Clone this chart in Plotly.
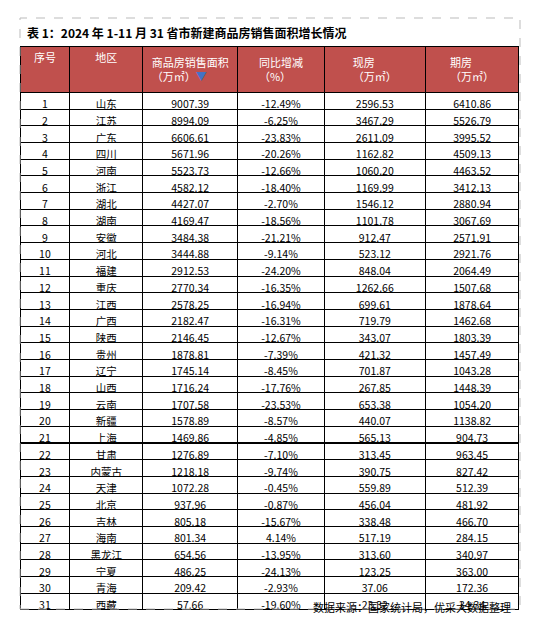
import plotly.graph_objects as go

ranks = list(range(1, 32))
regions = ["山东","江苏","广东","四川","河南","浙江","湖北","湖南","安徽","河北","福建","重庆","江西","广西","陕西","贵州","辽宁","山西","云南","新疆","上海","甘肃","内蒙古","天津","北京","吉林","海南","黑龙江","宁夏","青海","西藏"]
sales = [9007.39,8994.09,6606.61,5671.96,5523.73,4582.12,4427.07,4169.47,3484.38,3444.88,2912.53,2770.34,2578.25,2182.47,2146.45,1878.81,1745.14,1716.24,1707.58,1578.89,1469.86,1276.89,1218.18,1072.28,937.96,805.18,801.34,654.56,486.25,209.42,57.66]
yoy = [-12.49,-6.25,-23.83,-20.26,-12.66,-18.40,-2.70,-18.56,-21.21,-9.14,-24.20,-16.35,-16.94,-16.31,-12.67,-7.39,-8.45,-17.76,-23.53,-8.57,-4.85,-7.10,-9.74,-0.45,-0.87,-15.67,4.14,-13.95,-24.13,-2.93,-19.60]
existing = [2596.53,3467.29,2611.09,1162.82,1060.20,1169.99,1546.12,1101.78,912.47,523.12,848.04,1262.66,699.61,719.79,343.07,421.32,701.87,267.85,653.38,440.07,565.13,313.45,390.75,559.89,456.04,338.48,517.19,313.60,123.25,37.06,23.32]
presale = [6410.86,5526.79,3995.52,4509.13,4463.52,3412.13,2880.94,3067.69,2571.91,2921.76,2064.49,1507.68,1878.64,1462.68,1803.39,1457.49,1043.28,1448.39,1054.20,1138.82,904.73,963.45,827.42,512.39,481.92,466.70,284.15,340.97,363.00,172.36,34.34]
headers = ["序号","地区","商品房销售面积<br>（万㎡）<span style='color:#4472C4'>▼</span>","同比增减<br>（%）","现房<br>（万㎡）","期房<br>（万㎡）"]

W, H = 553, 624
x0, x1 = 12, 512
colw = [50, 73, 95, 87, 101, 94]

font = "Noto Sans CJK SC"
fig = go.Figure(go.Table(
    columnwidth=colw,
    domain=dict(x=[x0/W, x1/W], y=[0, 1-38/H]),
    header=dict(values=headers, fill_color="#C0504D", line=dict(color="black", width=1),
                font=dict(color="white", size=11, family=font), align="center", height=33),
    cells=dict(values=[ranks, regions, [f"{v:.2f}" for v in sales], [f"{v:.2f}%" for v in yoy],
                       [f"{v:.2f}" for v in existing], [f"{v:.2f}" for v in presale]],
               fill_color="white", line=dict(color="black", width=1),
               font=dict(color="black", size=10.5, family=font), align="center", height=16.7),
))
fig.update_layout(
    width=W, height=H, margin=dict(l=0, r=0, t=0, b=0), paper_bgcolor="white",
    font=dict(family=font),
    shapes=[dict(type="rect", xref="paper", yref="paper", x0=x0/W, x1=x1/W, y0=1-601/H, y1=1-10/H,
                 line=dict(color="#BBBBBB", width=1, dash="dash"))],
    annotations=[
        dict(text="<b>表 1：2024 年 1-11 月 31 省市新建商品房销售面积增长情况</b>", x=(x0+5)/W, y=1-25/H,
             xref="paper", yref="paper", xanchor="left", yanchor="middle", showarrow=False,
             font=dict(size=12, color="black", family=font)),
        dict(text="数据来源：国家统计局，优采大数据整理", x=(x1-7)/W, y=1-599/H,
             xref="paper", yref="paper", xanchor="right", yanchor="middle", showarrow=False,
             font=dict(size=11, color="black", family=font)),
    ],
)
fig.write_html("out.html")
